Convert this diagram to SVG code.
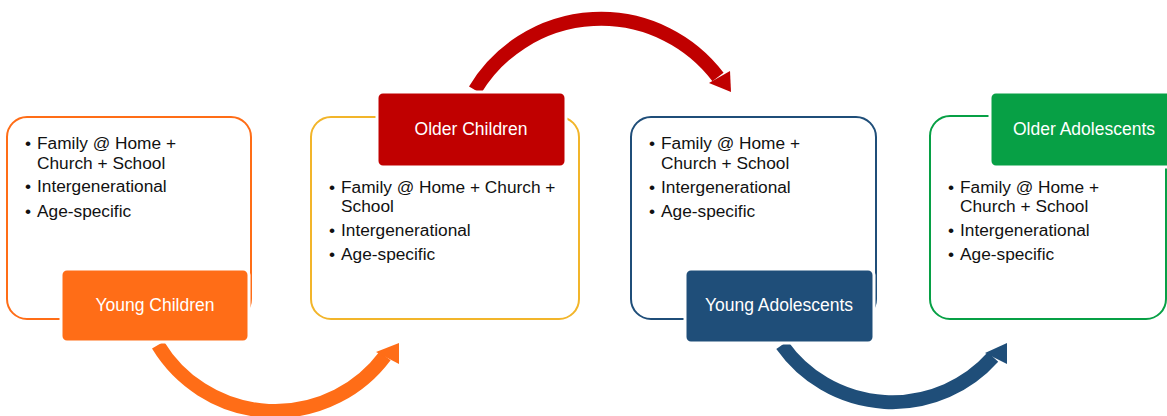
<svg xmlns="http://www.w3.org/2000/svg" width="1167" height="416" viewBox="0 0 1167 416">
<style>
.box{fill:#fff;stroke-width:2}
.lab{stroke:#fff;stroke-width:3}
.lt{font-family:"Liberation Sans",Arial,sans-serif;font-size:17.5px;fill:#fff;text-anchor:middle;dominant-baseline:central}
.bt{font-family:"Liberation Sans",Arial,sans-serif;font-size:17.3px;fill:#111}
.arc{fill:none;stroke-width:14}
</style>
<rect width="1167" height="416" fill="#fff"/>
<g id="connectors">
  <path class="arc" d="M158,345 A137,137 0 0 0 385,356" stroke="#FF6D17"/>
  <polygon points="399,343 376,352 399,364" fill="#FF6D17"/>
  <path class="arc" d="M475,90 A147,147 0 0 1 718,77" stroke="#C00000"/>
  <polygon points="731,92 709,83 730,71" fill="#C00000"/>
  <path class="arc" d="M782,345 A135,135 0 0 0 993,357" stroke="#1F4E79"/>
  <polygon points="1007,343 985,353 1007,364" fill="#1F4E79"/>
</g>
<g id="young-children">
  <rect class="box" x="7" y="117" width="244" height="202" rx="20" stroke="#FF6D17"/>
  <g class="bt">
    <text x="25" y="149">•</text><text x="37" y="149">Family @ Home +</text>
    <text x="37" y="169">Church + School</text>
    <text x="25" y="192">•</text><text x="37" y="192">Intergenerational</text>
    <text x="25" y="217">•</text><text x="37" y="217">Age-specific</text>
  </g>
  <rect class="lab" x="61" y="269" width="188" height="73" rx="6" fill="#FF6D17"/>
  <text class="lt" x="155" y="305">Young Children</text>
</g>
<g id="older-children">
  <rect class="box" x="311" y="117" width="268" height="202" rx="20" stroke="#F2B52A"/>
  <g class="bt">
    <text x="329" y="193">•</text><text x="341" y="193">Family @ Home + Church +</text>
    <text x="341" y="212">School</text>
    <text x="329" y="236">•</text><text x="341" y="236">Intergenerational</text>
    <text x="329" y="260">•</text><text x="341" y="260">Age-specific</text>
  </g>
  <rect class="lab" x="377" y="92" width="189" height="75" rx="6" fill="#C00000"/>
  <text class="lt" x="471" y="129">Older Children</text>
</g>
<g id="young-adolescents">
  <rect class="box" x="631" y="117" width="245" height="202" rx="20" stroke="#1F4E79"/>
  <g class="bt">
    <text x="649" y="149">•</text><text x="661" y="149">Family @ Home +</text>
    <text x="661" y="169">Church + School</text>
    <text x="649" y="193">•</text><text x="661" y="193">Intergenerational</text>
    <text x="649" y="217">•</text><text x="661" y="217">Age-specific</text>
  </g>
  <rect class="lab" x="685" y="269" width="189" height="74" rx="6" fill="#1F4E79"/>
  <text class="lt" x="779" y="305">Young Adolescents</text>
</g>
<g id="older-adolescents">
  <rect class="box" x="930" y="116" width="236" height="203" rx="20" stroke="#07A045"/>
  <g class="bt">
    <text x="948" y="193">•</text><text x="960" y="193">Family @ Home +</text>
    <text x="960" y="212">Church + School</text>
    <text x="948" y="236">•</text><text x="960" y="236">Intergenerational</text>
    <text x="948" y="260">•</text><text x="960" y="260">Age-specific</text>
  </g>
  <rect class="lab" x="990" y="92" width="190" height="75" rx="6" fill="#07A045"/>
  <text class="lt" x="1084" y="129">Older Adolescents</text>
</g>
</svg>
